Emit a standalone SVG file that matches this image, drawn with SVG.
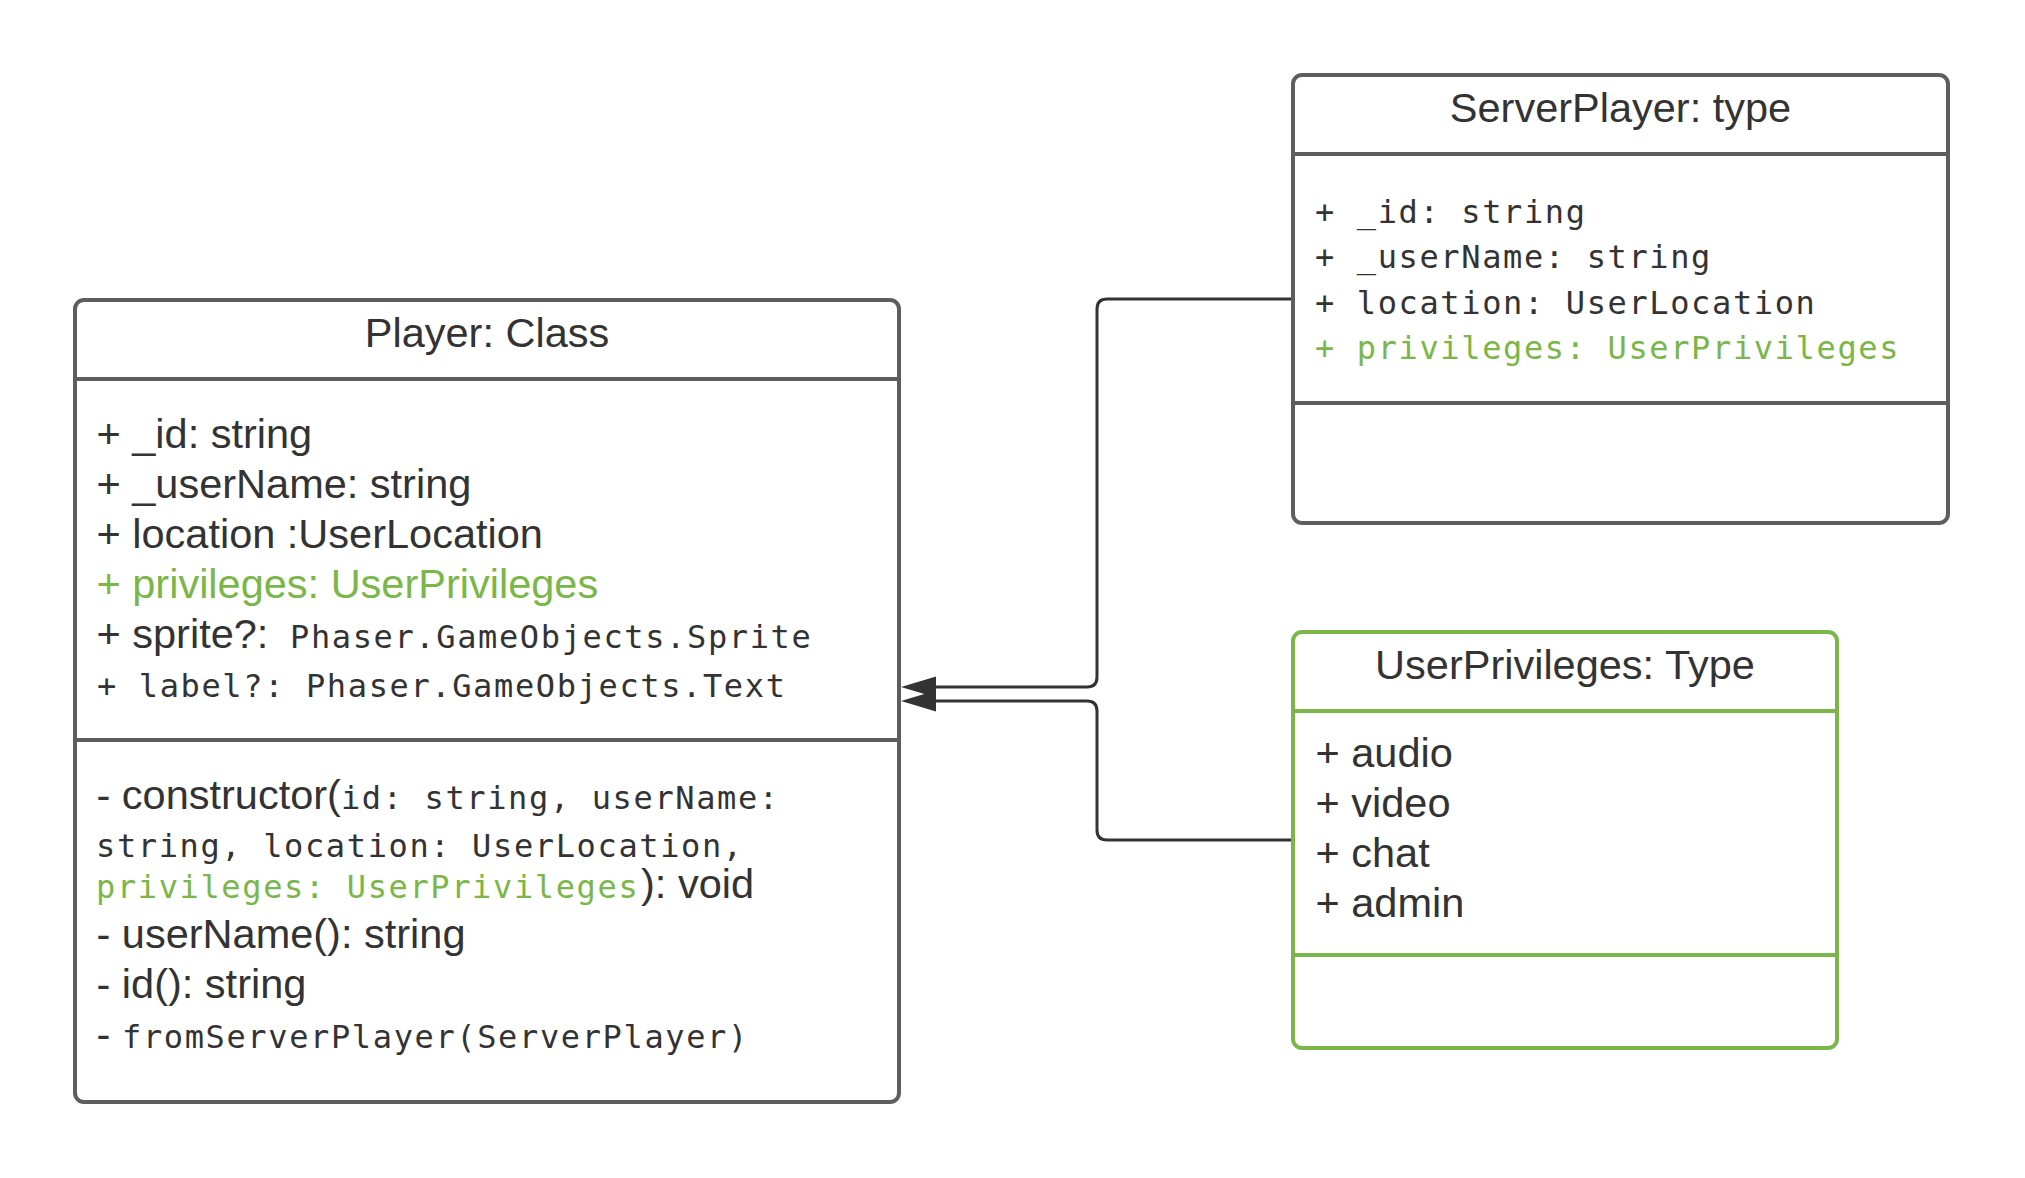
<svg xmlns="http://www.w3.org/2000/svg" width="2025" height="1178" viewBox="0 0 2025 1178">
<style>
.box{fill:#ffffff;stroke:#5e5e5e;stroke-width:4}
.gbox{fill:#ffffff;stroke:#7ab648;stroke-width:4}
.div{stroke:#5e5e5e;stroke-width:4}
.gdiv{stroke:#7ab648;stroke-width:4}
.conn{fill:none;stroke:#333333;stroke-width:3}
.t{font-family:"Liberation Sans",Arial,sans-serif;font-size:41.5px;fill:#333333}
.m{font-family:"DejaVu Sans Mono","Liberation Mono",monospace;font-size:32px;letter-spacing:1.63px;fill:#333333}
.g{fill:#7ab648}
.c{text-anchor:middle}
</style>
<defs>
<marker id="arr" markerUnits="userSpaceOnUse" markerWidth="36" markerHeight="22" refX="6" refY="10.5" orient="auto">
<path d="M0,0 L35,10.5 L0,21 Z" fill="#333333"/>
</marker>
</defs>

<g id="connectors">
<path class="conn" marker-end="url(#arr)" d="M1293,299 H1107 Q1097,299 1097,309 V677 Q1097,687 1087,687 H930"/>
<path class="conn" marker-end="url(#arr)" d="M1293,840 H1107 Q1097,840 1097,830 V711 Q1097,701 1087,701 H930"/>
</g>

<g id="player">
<rect class="box" x="75" y="300" width="824" height="802" rx="9"/>
<line class="div" x1="75" y1="379" x2="899" y2="379"/>
<line class="div" x1="75" y1="740" x2="899" y2="740"/>
<text class="t c" x="487" y="347">Player: Class</text>
<text class="t" x="96.5" y="448">+ _id: string</text>
<text class="t" x="96.5" y="498">+ _userName: string</text>
<text class="t" x="96.5" y="548">+ location :UserLocation</text>
<text class="t g" x="96.5" y="598">+ privileges: UserPrivileges</text>
<text x="96.5" y="648"><tspan class="t">+ sprite?: </tspan><tspan class="m" x="290">Phaser.GameObjects.Sprite</tspan></text>
<text class="m" x="97" y="697">+ label?: Phaser.GameObjects.Text</text>
<text x="96.5" y="809"><tspan class="t">- constructor(</tspan><tspan class="m">id: string, userName:</tspan></text>
<text class="m" x="96" y="857">string, location: UserLocation,</text>
<text x="96" y="898"><tspan class="m g">privileges: UserPrivileges</tspan><tspan class="t" x="641">): void</tspan></text>
<text class="t" x="96.5" y="948">- userName(): string</text>
<text class="t" x="96.5" y="998">- id(): string</text>
<text x="96.5" y="1048"><tspan class="t">- </tspan><tspan class="m" x="122">fromServerPlayer(ServerPlayer)</tspan></text>
</g>

<g id="serverplayer">
<rect class="box" x="1293" y="75" width="655" height="448" rx="9"/>
<line class="div" x1="1293" y1="154" x2="1948" y2="154"/>
<line class="div" x1="1293" y1="403" x2="1948" y2="403"/>
<text class="t c" x="1620.5" y="122">ServerPlayer: type</text>
<text class="m" x="1315" y="222.5">+ _id: string</text>
<text class="m" x="1315" y="268">+ _userName: string</text>
<text class="m" x="1315" y="313.5">+ location: UserLocation</text>
<text class="m g" x="1315" y="359">+ privileges: UserPrivileges</text>
</g>

<g id="userprivileges">
<rect class="gbox" x="1293" y="632" width="544" height="416" rx="9"/>
<line class="gdiv" x1="1293" y1="711" x2="1837" y2="711"/>
<line class="gdiv" x1="1293" y1="955" x2="1837" y2="955"/>
<text class="t c" x="1565" y="679">UserPrivileges: Type</text>
<text class="t" x="1315.5" y="767">+ audio</text>
<text class="t" x="1315.5" y="817">+ video</text>
<text class="t" x="1315.5" y="867">+ chat</text>
<text class="t" x="1315.5" y="917">+ admin</text>
</g>
</svg>
